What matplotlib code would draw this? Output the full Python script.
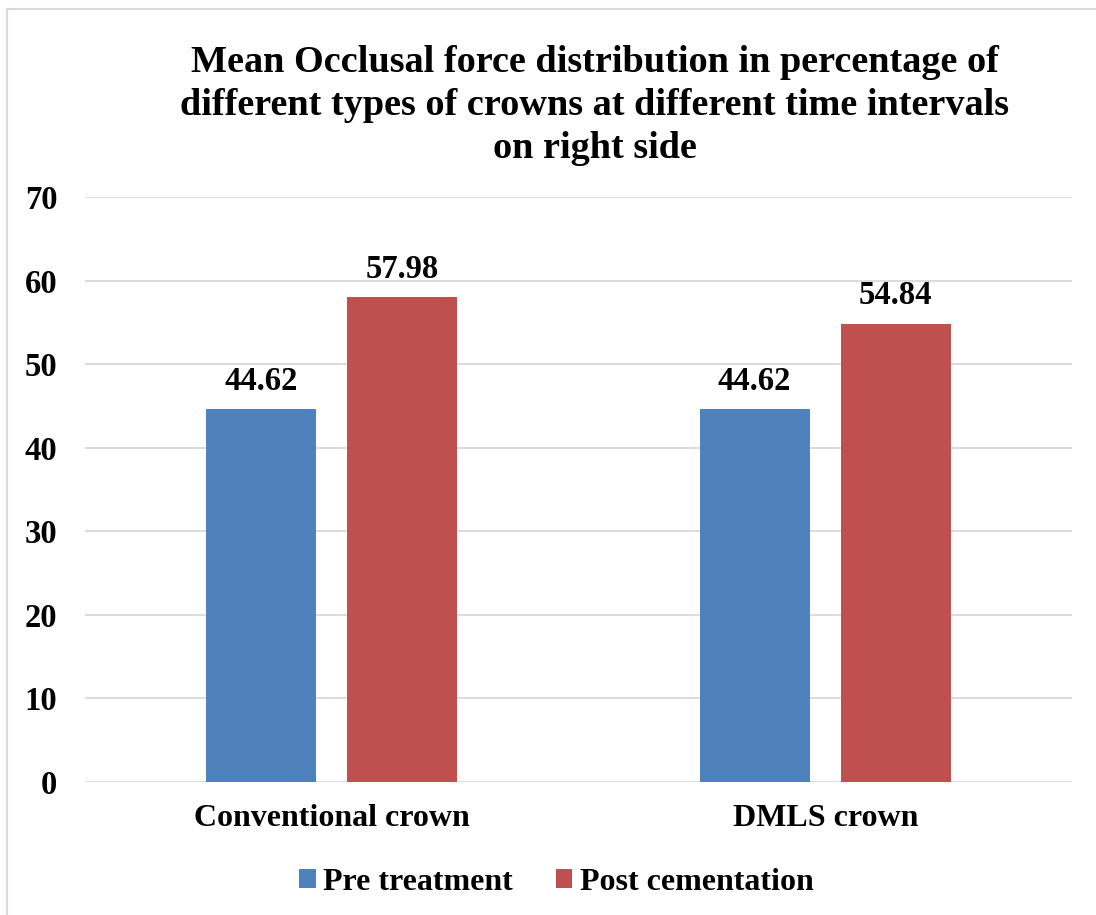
import matplotlib
matplotlib.use("Agg")
import matplotlib.pyplot as plt
import numpy as np
from matplotlib.patches import Rectangle

categories = ["Conventional crown", "DMLS crown"]
series_names = ["Pre treatment", "Post cementation"]
pre_treatment = [44.62, 44.62]
post_cementation = [57.98, 54.84]
colors = ["#4F81BD", "#C0504D"]
yticks = [0, 10, 20, 30, 40, 50, 60, 70]
title = ("Mean Occlusal force distribution in percentage of\n"
         "different types of crowns at different time intervals\n"
         "on right side")

plt.rcParams['font.family'] = ['Liberation Serif', 'DejaVu Serif']
plt.rcParams['font.weight'] = 'bold'

fig = plt.figure(figsize=(10.96, 9.15), dpi=100)
ax = fig.add_axes([85/1096, 1-782/915, (1072-85)/1096, (782-197)/915])

x = np.arange(len(categories))
w = 0.223
off = 0.143
b1 = ax.bar(x - off, pre_treatment, w, color=colors[0], label=series_names[0], zorder=3)
b2 = ax.bar(x + off, post_cementation, w, color=colors[1], label=series_names[1], zorder=3)
for bars, vals in ((b1, pre_treatment), (b2, post_cementation)):
    for r, v in zip(bars, vals):
        ax.annotate(f"{v:.2f}", (r.get_x() + r.get_width()/2, v), xytext=(0, 9),
                    textcoords="offset points", ha="center", va="bottom",
                    fontsize=23.5, fontweight="bold")

ax.set_xlim(-0.5, 1.5)
ax.set_ylim(0, 70)
ax.set_yticks(yticks)
ax.set_yticklabels([str(t) for t in yticks], fontsize=23.5, fontweight="bold")
ax.set_xticks(x)
ax.set_xticklabels(categories, fontsize=23, fontweight="bold")
ax.tick_params(axis='both', length=0)
ax.tick_params(axis='y', pad=20)
ax.tick_params(axis='x', pad=16)
ax.grid(axis='y', color='#D9D9D9', linewidth=1.3, zorder=0)
for s in ax.spines.values():
    s.set_visible(False)

fig.text(595/1096, 1-45/915, title, ha="center", va="top", fontsize=27.5,
         fontweight="bold", linespacing=1.29)

ax.legend(loc="center", bbox_to_anchor=(556/1096, 1-882/915), bbox_transform=fig.transFigure,
          ncol=2, frameon=False, handlelength=0.53, handleheight=0.53,
          handletextpad=0.22, columnspacing=1.35, borderpad=0,
          prop={'weight': 'bold', 'size': 23})

fig.patches.append(Rectangle((7/1096, -0.1), 1.2, 1-9/915+0.1, transform=fig.transFigure,
                             fill=False, edgecolor='#D9D9D9', linewidth=1.5))

fig.savefig("out.png", dpi=100)
